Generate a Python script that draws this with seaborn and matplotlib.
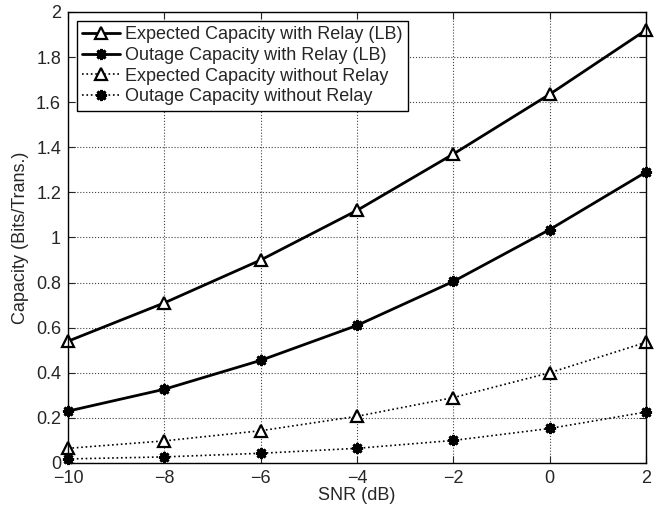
import numpy as np
import pandas as pd
import matplotlib
matplotlib.use("Agg")
import matplotlib.pyplot as plt
import seaborn as sns

# ===== data =====
snr_db = [-10, -8, -6, -4, -2, 0, 2]
exp_relay = [0.54, 0.71, 0.90, 1.12, 1.37, 1.635, 1.92]
out_relay = [0.23, 0.327, 0.455, 0.61, 0.805, 1.035, 1.29]
exp_norelay = [0.065, 0.098, 0.143, 0.207, 0.29, 0.40, 0.535]
out_norelay = [0.018, 0.027, 0.043, 0.065, 0.10, 0.153, 0.226]

series_names = [
    'Expected Capacity with Relay (LB)',
    'Outage Capacity with Relay (LB)',
    'Expected Capacity without Relay',
    'Outage Capacity without Relay',
]

df = pd.DataFrame({
    'snr': snr_db * 4,
    'cap': exp_relay + out_relay + exp_norelay + out_norelay,
    'series': np.repeat(series_names, len(snr_db)),
})

sns.set_style('ticks')
plt.rcParams['font.family'] = ['Liberation Sans', 'DejaVu Sans']
plt.rcParams['axes.unicode_minus'] = True

fig = plt.figure(figsize=(6.71, 5.08), dpi=100)
ax = fig.add_axes([0.1013, 0.0886, 0.8614, 0.8878])

asterisk = (8, 2, 0)
styles = {
    series_names[0]: dict(ls='-', lw=2.0, marker='^', mfc='white', ms=8, mew=1.6),
    series_names[1]: dict(ls='-', lw=2.0, marker=asterisk, mfc='black', ms=8, mew=2.0),
    series_names[2]: dict(ls=':', lw=1.2, marker='^', mfc='white', ms=8, mew=1.6),
    series_names[3]: dict(ls=':', lw=1.2, marker=asterisk, mfc='black', ms=8, mew=2.0),
}

for name in series_names:
    st = styles[name]
    sub = df[df['series'] == name]
    sns.lineplot(data=sub, x='snr', y='cap', ax=ax, color='black',
                 linestyle=st['ls'], linewidth=st['lw'], marker=st['marker'],
                 markerfacecolor=st['mfc'], markeredgecolor='black',
                 markersize=st['ms'], markeredgewidth=st['mew'], label=name,
                 clip_on=False)

ax.set_xlim(-10, 2)
ax.set_ylim(0, 2)
ax.set_xticks([-10, -8, -6, -4, -2, 0, 2])
ax.set_yticks(np.arange(0, 2.01, 0.2))
ax.set_yticklabels(['0', '0.2', '0.4', '0.6', '0.8', '1', '1.2', '1.4', '1.6', '1.8', '2'])
ax.grid(True, linestyle=':', color='#444444', linewidth=0.8)
ax.tick_params(direction='in', top=True, right=True, labelsize=13, length=5, width=0.8)
ax.tick_params(axis='x', pad=5)
ax.tick_params(axis='y', pad=5)
for sp in ax.spines.values():
    sp.set_visible(True)
    sp.set_linewidth(1.0)
    sp.set_color('black')

ax.set_xlabel('SNR (dB)', fontsize=13, labelpad=0)
ax.set_ylabel('Capacity (Bits/Trans.)', fontsize=13, labelpad=5)

leg = ax.legend(loc='upper left', fontsize=13, frameon=True, fancybox=False,
                edgecolor='black', framealpha=1, borderpad=0.3, labelspacing=0.2,
                handlelength=2.1, handletextpad=0.25, borderaxespad=0.5)
leg.get_frame().set_linewidth(1.0)

fig.savefig('out.png', dpi=100)
